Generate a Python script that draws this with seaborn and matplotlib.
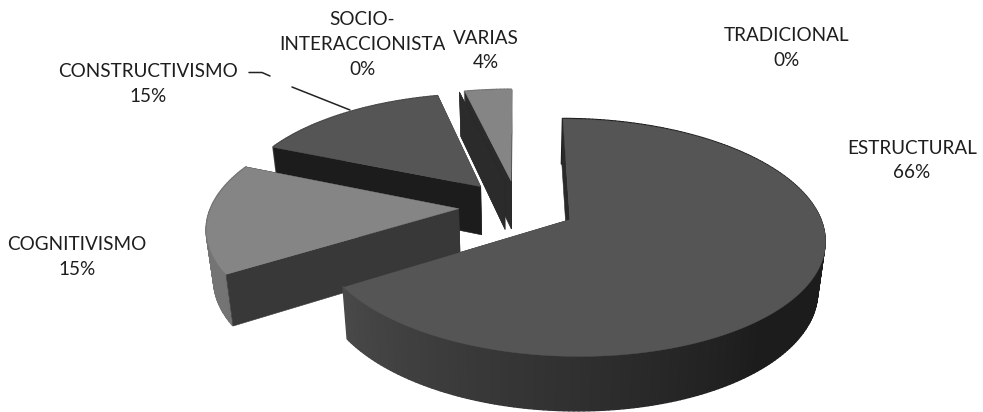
import numpy as np
import matplotlib
matplotlib.use("Agg")
import matplotlib.pyplot as plt
from matplotlib.collections import PolyCollection
import seaborn as sns

# ---- data ----
names = ["ESTRUCTURAL", "COGNITIVISMO", "CONSTRUCTIVISMO",
         "SOCIO-\nINTERACCIONISTA", "VARIAS", "TRADICIONAL"]
values = [66, 15.4, 15, 0, 3.6, 0]

# ---- style ----
top_colors = ["#555555", "#858585", "#555555", "#555555", "#858585", "#555555"]
start_wall = ["#2a2a2a", "#383838", "#1c1c1c", "#2b2b2b", "#2b2b2b", "#2b2b2b"]
end_wall = ["#2a2a2a", "#1c1c1c", "#2b2b2b", "#222222", "#262626", "#2b2b2b"]
base_grey = [0x55, 0x85, 0x55, 0x55, 0x85, 0x55]
label_xy = [(912, 160.5), (77, 257), (148, 84), (362, 44.5), (486, 50.5), (787, 48)]
draw_order = [5, 4, 3, 2, 1, 0]

X0, Y0 = 517.0, 206.0
A, B, K = 247.0, 112.0, 0.15
EXPLODE = 0.238
FX, FY, H0 = 0.976, 1.04, 49.0

sns.set_theme(style="white")
plt.rcParams["font.family"] = ["Lato", "DejaVu Sans"]

fig = plt.figure(figsize=(9.83, 4.12), dpi=100)
ax = fig.add_axes([0, 0, 1, 1])
ax.set_xlim(0, 983)
ax.set_ylim(412, 0)
ax.axis("off")


def project(u, v):
    s = 1.0 / (1.0 + K * v)
    return X0 + A * u * s, Y0 - B * v * s


def drop(x, y):
    return X0 + (x - X0) * FX, Y0 + H0 + (y - Y0) * FY


def quad(x1, y1, x2, y2):
    bx1, by1 = drop(x1, y1)
    bx2, by2 = drop(x2, y2)
    return [(x1, y1), (x2, y2), (bx2, by2), (bx1, by1)]


def shade(theta_deg):
    return np.interp(theta_deg % 360, [0, 90, 140, 180, 240, 360],
                     [0.33, 0.33, 0.33, 0.56, 0.87, 0.87])


def add_wall(poly, colour, zorder, edges=True):
    ax.add_collection(PolyCollection([poly], facecolors=[colour],
                                     edgecolors=colour if edges else "none",
                                     linewidths=0.4, zorder=zorder))


fracs = np.array(values, dtype=float) / sum(values) * 360
ends = np.cumsum(fracs)
starts = ends - fracs

for i in draw_order:
    a0, a1 = starts[i], ends[i]
    mid = np.radians((a0 + a1) / 2)
    du, dv = EXPLODE * np.sin(mid), EXPLODE * np.cos(mid)
    theta = np.linspace(a0, a1, max(2, int(fracs[i]) + 2))
    rad = np.radians(theta)
    xs, ys = project(du + np.sin(rad), dv + np.cos(rad))
    cx, cy = project(du, dv)
    z = 10 + draw_order.index(i)
    edge_on = abs(xs[0] - cx) < 1

    # far radial wall, outer wall, near radial wall, top face - in painter's order
    add_wall(quad(cx, cy, xs[-1], ys[-1]), end_wall[i], z, edges=not edge_on)
    if fracs[i] > 0:
        segs, cols = [], []
        for j in range(len(theta) - 1):
            segs.append(quad(xs[j], ys[j], xs[j + 1], ys[j + 1]))
            g = base_grey[i] * shade((theta[j] + theta[j + 1]) / 2) / 255
            cols.append((g, g, g))
        ax.add_collection(PolyCollection(segs, facecolors=cols, edgecolors=cols,
                                         linewidths=1.0, zorder=z + 0.1))
    add_wall(quad(cx, cy, xs[0], ys[0]), start_wall[i], z + 0.2, edges=not edge_on)
    if fracs[i] > 0:
        top = [(cx, cy)] + list(zip(xs, ys))
        ax.add_collection(PolyCollection([top], facecolors=[top_colors[i]],
                                         edgecolors=[top_colors[i]], linewidths=0.3,
                                         zorder=z + 0.3))

# leader line of CONSTRUCTIVISMO
ax.plot([249, 262, 270], [72.5, 72.5, 76], color="#222222", lw=1.1, zorder=5)
ax.plot([292, 350], [87, 110], color="#222222", lw=1.1, zorder=5)

# labels
for name, val, (tx, ty) in zip(names, values, label_xy):
    box = dict(facecolor="white", edgecolor="none", pad=6) if name == "VARIAS" else None
    ax.text(tx, ty, f"{name}\n{val:.0f}%", ha="center", va="center", fontsize=13.6,
            color="#1e1e1e", linespacing=1.55, zorder=30, bbox=box)

fig.savefig("out.png", dpi=100, facecolor="white")
